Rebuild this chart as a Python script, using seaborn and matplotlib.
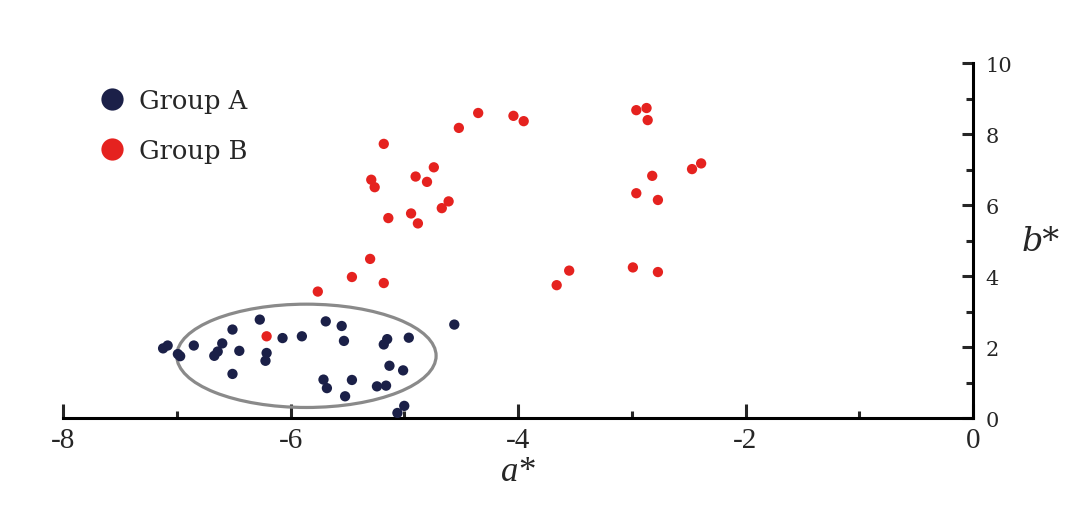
import pandas as pd
import numpy as np
import seaborn as sns
import matplotlib.pyplot as plt
from matplotlib.patches import Ellipse
from matplotlib.ticker import MultipleLocator

sns.set_style('white')
plt.rcParams['font.family'] = ['DejaVu Serif', 'DejaVu Sans']
plt.rcParams['axes.unicode_minus'] = False

# Group A (dark blue) a*, b*
a_A = [-7.12, -7.08, -6.99, -6.97, -6.85, -6.67, -6.64, -6.60, -6.51, -6.45,
       -6.51, -6.27, -6.21, -6.22, -6.07, -5.90, -5.69, -5.55, -5.53, -5.71,
       -5.68, -5.46, -5.52, -5.18, -5.15, -4.96, -5.13, -5.01, -5.24, -5.16,
       -5.00, -5.06, -4.56]
b_A = [1.97, 2.05, 1.81, 1.75, 2.05, 1.76, 1.88, 2.11, 2.50, 1.90,
       1.25, 2.78, 1.84, 1.62, 2.26, 2.31, 2.73, 2.60, 2.18, 1.09,
       0.85, 1.08, 0.62, 2.08, 2.23, 2.27, 1.48, 1.35, 0.90, 0.92,
       0.35, 0.15, 2.64]

# Group B (red) a*, b*
a_B = [-6.21, -4.35, -4.52, -5.18, -5.29, -5.26, -4.90, -4.80, -4.74, -5.14,
       -4.94, -4.88, -4.67, -4.61, -5.30, -5.46, -5.18, -5.76, -4.04, -3.95,
       -2.96, -2.87, -2.86, -2.47, -2.39, -2.82, -2.96, -2.77, -3.55, -3.66,
       -2.99, -2.77]
b_B = [2.31, 8.60, 8.18, 7.73, 6.72, 6.51, 6.81, 6.66, 7.07, 5.64,
       5.77, 5.49, 5.92, 6.11, 4.49, 3.98, 3.81, 3.57, 8.52, 8.37,
       8.68, 8.74, 8.40, 7.02, 7.18, 6.83, 6.34, 6.15, 4.16, 3.75,
       4.25, 4.12]

groups = ['Group A', 'Group B']
colors = {'Group A': '#1b2048', 'Group B': '#e5221f'}

# ellipse marking group A
ell_center = (-5.86, 1.76)
ell_w, ell_h = 2.28, 2.91

df = pd.DataFrame({
    'a': a_A + a_B,
    'b': b_A + b_B,
    'group': [groups[0]] * len(a_A) + [groups[1]] * len(a_B),
})

fig = plt.figure(figsize=(10.8, 5.1), dpi=100)
ax = fig.add_axes([63 / 1080, 1 - 419.3 / 510, 910 / 1080, 355 / 510])

ax.add_patch(Ellipse(ell_center, ell_w, ell_h, fill=False, edgecolor='#8a8a8a',
                     linewidth=2.3, zorder=1))

sns.scatterplot(data=df, x='a', y='b', hue='group', palette=colors, s=55,
                edgecolor='none', ax=ax, zorder=3, legend=False)

ax.set_xlim(-8, 0)
ax.set_ylim(0, 10)

for s in ['top', 'left']:
    ax.spines[s].set_visible(False)
for s in ['bottom', 'right']:
    ax.spines[s].set_linewidth(2.2)
    ax.spines[s].set_color('black')

ax.xaxis.set_major_locator(MultipleLocator(2))
ax.xaxis.set_minor_locator(MultipleLocator(1))
ax.yaxis.set_major_locator(MultipleLocator(2))
ax.yaxis.set_minor_locator(MultipleLocator(1))
ax.yaxis.tick_right()
ax.yaxis.set_label_position('right')

ax.tick_params(axis='x', which='major', direction='in', length=10, width=2.2,
               pad=6, labelsize=21, bottom=True, top=False,
               labelfontfamily='Liberation Serif')
ax.tick_params(axis='x', which='minor', direction='in', length=5, width=2.2,
               bottom=True, top=False)
ax.tick_params(axis='y', which='major', direction='in', length=8, width=2.2,
               pad=9, labelsize=15, right=True, left=False)
ax.tick_params(axis='y', which='minor', direction='in', length=5, width=2.2,
               right=True, left=False)

ax.set_xlabel('a*', family='Liberation Serif', style='italic', fontsize=25,
              labelpad=2)
ax.set_ylabel('b*', style='italic', fontsize=24, rotation=0, ha='center',
              va='center')
ax.yaxis.set_label_coords(1.074, 0.5)

# legend
handles = [plt.Line2D([], [], marker='o', linestyle='none', markersize=16,
                      markerfacecolor=colors[g], markeredgecolor='none')
           for g in groups]
ax.legend(handles, groups, loc='upper left', bbox_to_anchor=(0.023, 0.966),
          frameon=False, fontsize=18.5, handletextpad=0.45, labelspacing=0.95,
          borderpad=0, handlelength=1.2)

ax.set_facecolor('white')
fig.savefig('out.png', dpi=100, facecolor='white')
